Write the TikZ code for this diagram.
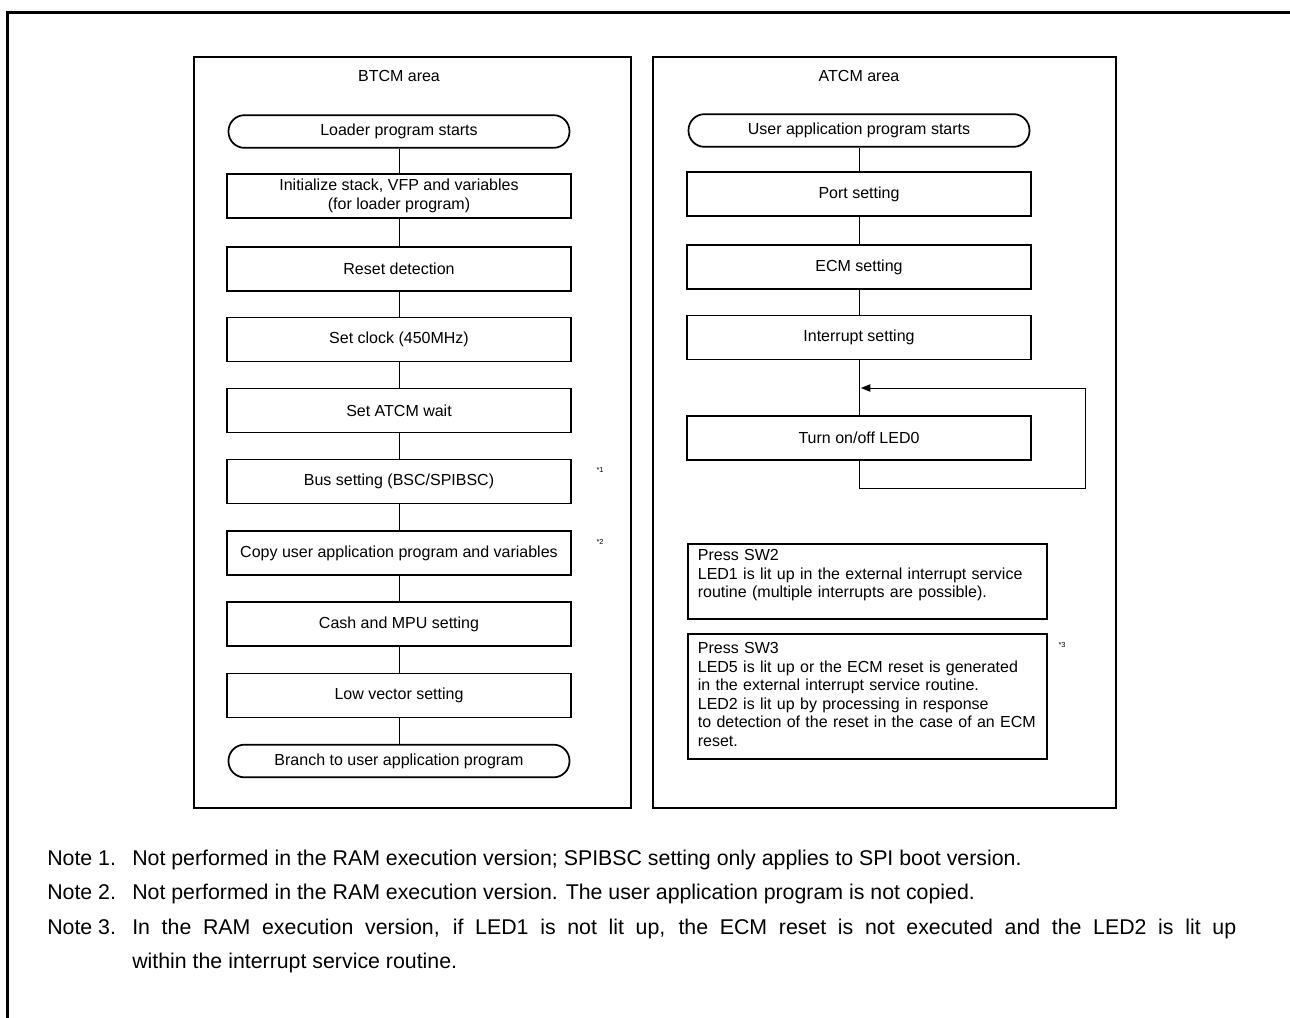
\documentclass[tikz,border=0pt]{standalone}
\usepackage{fontspec}
\setmainfont{Liberation Sans}
\usetikzlibrary{arrows.meta}
\begin{document}
\begin{tikzpicture}[x=0.75pt,y=-0.75pt,
  every node/.style={font=\fontsize{12}{13.9}\selectfont, inner sep=0pt},
  proc/.style={draw, line width=1.3pt, minimum width=258pt, minimum height=33pt, align=center},
  term/.style={draw, line width=1.3pt, rounded corners=12pt, minimum width=255.75pt, minimum height=24.5pt},
  area/.style={draw, line width=1.3pt},
  link/.style={line width=0.7pt},
  noteref/.style={font=\fontsize{5.5}{6}\selectfont},
  memo/.style={draw, line width=1.3pt, anchor=north west, minimum width=269.25pt,
    text width=254.25pt, inner xsep=7.5pt, align=left},
  notetext/.style={font=\fontsize{16}{20}\selectfont, anchor=base west}
]
\useasboundingbox (0,0) rectangle (1290,1018);

% outer frame
\draw[line width=2.2pt] (7.5,1018) -- (7.5,12.5) -- (1290,12.5);

% memory areas
\draw[area] (194,57) rectangle (631,808);
\draw[area] (653,57) rectangle (1116,808);
\node (btcm) at (399,76) {BTCM area};
\node (atcm) at (859,76) {ATCM area};

% loader program (BTCM)
\node[term] (l0) at (399,131.5) {Loader program starts};
\node[proc] (l1) at (399,196) {Initialize stack, VFP and variables\\(for loader program)};
\node[proc] (l2) at (399,269) {Reset detection};
\node[proc] (l3) at (399,339.5) {Set clock (450MHz)};
\node[proc] (l4) at (399,410.5) {Set ATCM wait};
\node[proc] (l5) at (399,481.5) {Bus setting (BSC/SPIBSC)};
\node[proc] (l6) at (399,553) {Copy user application program and variables};
\node[proc] (l7) at (399,624) {Cash and MPU setting};
\node[proc] (l8) at (399,695.5) {Low vector setting};
\node[term] (l9) at (399,761) {Branch to user application program};
\foreach \a/\b in {l0/l1,l1/l2,l2/l3,l3/l4,l4/l5,l5/l6,l6/l7,l7/l8,l8/l9}
  \draw[link] (\a.south) -- (\b.north);

\node[noteref] (r1mark) at (600,470) {*1};
\node[noteref] (r2mark) at (600,542) {*2};

% user application (ATCM)
\node[term] (r0) at (859,130.5) {User application program starts};
\node[proc] (r1) at (859,194) {Port setting};
\node[proc] (r2) at (859,267) {ECM setting};
\node[proc] (r3) at (859,337.5) {Interrupt setting};
\node[proc] (r4) at (859,438) {Turn on/off LED0};
\foreach \a/\b in {r0/r1,r1/r2,r2/r3,r3/r4}
  \draw[link] (\a.south) -- (\b.north);

% main loop
\coordinate (lpb) at (1085,488);
\coordinate (lpt) at (861,388);
\draw[link, -{Triangle[length=7pt,width=5.5pt]}] (r4.south) |- (lpb) |- (lpt);

% interrupt descriptions
\node[memo, minimum height=56.25pt] (sw2) at (687,543)
  {Press SW2\\LED1 is lit up in the external interrupt service\\routine (multiple interrupts are possible).\par\kern9pt};
\node[memo, minimum height=93.75pt] (sw3) at (687,633)
  {Press SW3\\LED5 is lit up or the ECM reset is generated\\in the external interrupt service routine.\\LED2 is lit up by processing in response\\to detection of the reset in the case of an ECM\\reset.\par\kern3pt};
\node[noteref] (r3mark) at (1062,645) {*3};

% notes
\node[notetext] (n1k) at (47,865) {Note 1.};
\node[notetext] (n1t) at (132,865) {Not performed in the RAM execution version; SPIBSC setting only applies to SPI boot version.};
\node[notetext] (n2k) at (47,899.5) {Note 2.};
\node[notetext] (n2t) at (132,899.5) {Not performed in the RAM execution version. The user application program is not copied.};
\node[notetext] (n3k) at (47,934) {Note 3.};
\node[notetext] (n3t) at (132,934) {\makebox[828pt][s]{In the RAM execution version, if LED1 is not lit up, the ECM reset is not executed and the LED2 is lit up}};
\node[notetext] (n3u) at (132,968.5) {within the interrupt service routine.};
\end{tikzpicture}
\end{document}
